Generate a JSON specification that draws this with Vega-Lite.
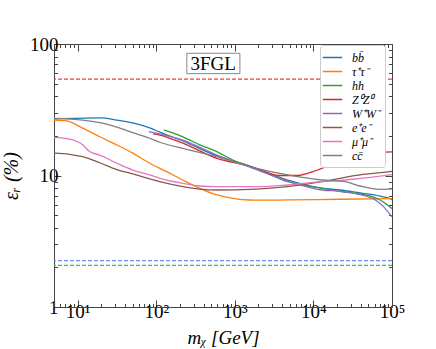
{
  "$schema": "https://vega.github.io/schema/vega-lite/v6.json",
  "width": 338,
  "height": 263,
  "autosize": {"type": "none"},
  "padding": {"left": 54, "top": 44, "right": 44, "bottom": 42},
  "background": "white",
  "config": {"view": {"stroke": null}, "font": "Liberation Serif"},
  "datasets": {
    "curves": [
      {"ch": "bb̄", "m": 5, "e": 26.9}, {"ch": "bb̄", "m": 19.1, "e": 27.4}, {"ch": "bb̄", "m": 31.4, "e": 26.4}, {"ch": "bb̄", "m": 50.2, "e": 25.1}, {"ch": "bb̄", "m": 82.6, "e": 23.0}, {"ch": "bb̄", "m": 111, "e": 21.4}, {"ch": "bb̄", "m": 218, "e": 18.3}, {"ch": "bb̄", "m": 590, "e": 14.1}, {"ch": "bb̄", "m": 1553, "e": 11.8}, {"ch": "bb̄", "m": 4732, "e": 9.24}, {"ch": "bb̄", "m": 12823, "e": 8.03}, {"ch": "bb̄", "m": 21770, "e": 7.76}, {"ch": "bb̄", "m": 39100, "e": 7.36}, {"ch": "bb̄", "m": 70300, "e": 6.98}, {"ch": "bb̄", "m": 94400, "e": 6.66}, {"ch": "bb̄", "m": 100000, "e": 6.55},
      {"ch": "τ⁺τ⁻", "m": 5, "e": 26.4}, {"ch": "τ⁺τ⁻", "m": 7.24, "e": 26.0}, {"ch": "τ⁺τ⁻", "m": 11.6, "e": 22.9}, {"ch": "τ⁺τ⁻", "m": 19.1, "e": 19.7}, {"ch": "τ⁺τ⁻", "m": 31.4, "e": 17.1}, {"ch": "τ⁺τ⁻", "m": 50.2, "e": 14.8}, {"ch": "τ⁺τ⁻", "m": 82.6, "e": 12.4}, {"ch": "τ⁺τ⁻", "m": 136, "e": 10.7}, {"ch": "τ⁺τ⁻", "m": 218, "e": 9.24}, {"ch": "τ⁺τ⁻", "m": 358, "e": 7.99}, {"ch": "τ⁺τ⁻", "m": 590, "e": 7.11}, {"ch": "τ⁺τ⁻", "m": 944, "e": 6.71}, {"ch": "τ⁺τ⁻", "m": 1553, "e": 6.51}, {"ch": "τ⁺τ⁻", "m": 2081, "e": 6.49}, {"ch": "τ⁺τ⁻", "m": 5000, "e": 6.52}, {"ch": "τ⁺τ⁻", "m": 21770, "e": 6.6}, {"ch": "τ⁺τ⁻", "m": 100000, "e": 6.66},
      {"ch": "hh", "m": 125, "e": 22.2}, {"ch": "hh", "m": 218, "e": 19.7}, {"ch": "hh", "m": 358, "e": 17.1}, {"ch": "hh", "m": 590, "e": 15.2}, {"ch": "hh", "m": 944, "e": 13.1}, {"ch": "hh", "m": 1553, "e": 11.7}, {"ch": "hh", "m": 2081, "e": 11.0}, {"ch": "hh", "m": 4732, "e": 8.97}, {"ch": "hh", "m": 12823, "e": 7.99}, {"ch": "hh", "m": 21770, "e": 7.59}, {"ch": "hh", "m": 57280, "e": 6.88}, {"ch": "hh", "m": 76800, "e": 6.32}, {"ch": "hh", "m": 94400, "e": 5.75}, {"ch": "hh", "m": 100000, "e": 5.6},
      {"ch": "Z⁰Z⁰", "m": 91.2, "e": 20.7}, {"ch": "Z⁰Z⁰", "m": 111, "e": 20.3}, {"ch": "Z⁰Z⁰", "m": 218, "e": 17.6}, {"ch": "Z⁰Z⁰", "m": 590, "e": 13.5}, {"ch": "Z⁰Z⁰", "m": 1553, "e": 11.7}, {"ch": "Z⁰Z⁰", "m": 2275, "e": 10.8}, {"ch": "Z⁰Z⁰", "m": 3741, "e": 10.0}, {"ch": "Z⁰Z⁰", "m": 6166, "e": 10.0}, {"ch": "Z⁰Z⁰", "m": 9860, "e": 10.7}, {"ch": "Z⁰Z⁰", "m": 16218, "e": 12.0}, {"ch": "Z⁰Z⁰", "m": 21770, "e": 12.9}, {"ch": "Z⁰Z⁰", "m": 29170, "e": 13.8}, {"ch": "Z⁰Z⁰", "m": 45290, "e": 14.6}, {"ch": "Z⁰Z⁰", "m": 70300, "e": 15.0}, {"ch": "Z⁰Z⁰", "m": 100000, "e": 15.1},
      {"ch": "W⁺W⁻", "m": 80.4, "e": 21.6}, {"ch": "W⁺W⁻", "m": 218, "e": 18.6}, {"ch": "W⁺W⁻", "m": 590, "e": 14.3}, {"ch": "W⁺W⁻", "m": 1553, "e": 11.6}, {"ch": "W⁺W⁻", "m": 4732, "e": 9.08}, {"ch": "W⁺W⁻", "m": 12823, "e": 7.76}, {"ch": "W⁺W⁻", "m": 21770, "e": 7.59}, {"ch": "W⁺W⁻", "m": 57280, "e": 6.68}, {"ch": "W⁺W⁻", "m": 76800, "e": 5.85}, {"ch": "W⁺W⁻", "m": 100000, "e": 4.84},
      {"ch": "e⁺e⁻", "m": 5, "e": 14.8}, {"ch": "e⁺e⁻", "m": 7.9, "e": 14.5}, {"ch": "e⁺e⁻", "m": 11.6, "e": 13.9}, {"ch": "e⁺e⁻", "m": 19.1, "e": 12.5}, {"ch": "e⁺e⁻", "m": 31.4, "e": 11.1}, {"ch": "e⁺e⁻", "m": 50.2, "e": 10.3}, {"ch": "e⁺e⁻", "m": 82.6, "e": 9.41}, {"ch": "e⁺e⁻", "m": 111, "e": 8.97}, {"ch": "e⁺e⁻", "m": 218, "e": 8.22}, {"ch": "e⁺e⁻", "m": 358, "e": 7.89}, {"ch": "e⁺e⁻", "m": 590, "e": 7.76}, {"ch": "e⁺e⁻", "m": 1553, "e": 7.85}, {"ch": "e⁺e⁻", "m": 4732, "e": 8.22}, {"ch": "e⁺e⁻", "m": 12823, "e": 8.97}, {"ch": "e⁺e⁻", "m": 25180, "e": 9.69}, {"ch": "e⁺e⁻", "m": 39100, "e": 10.1}, {"ch": "e⁺e⁻", "m": 94400, "e": 10.7}, {"ch": "e⁺e⁻", "m": 100000, "e": 10.75},
      {"ch": "μ⁺μ⁻", "m": 5, "e": 19.5}, {"ch": "μ⁺μ⁻", "m": 7.9, "e": 18.9}, {"ch": "μ⁺μ⁻", "m": 11.6, "e": 17.1}, {"ch": "μ⁺μ⁻", "m": 14.2, "e": 15.2}, {"ch": "μ⁺μ⁻", "m": 19.1, "e": 14.3}, {"ch": "μ⁺μ⁻", "m": 31.4, "e": 12.4}, {"ch": "μ⁺μ⁻", "m": 50.2, "e": 11.0}, {"ch": "μ⁺μ⁻", "m": 82.6, "e": 10.1}, {"ch": "μ⁺μ⁻", "m": 111, "e": 9.52}, {"ch": "μ⁺μ⁻", "m": 218, "e": 8.72}, {"ch": "μ⁺μ⁻", "m": 358, "e": 8.32}, {"ch": "μ⁺μ⁻", "m": 590, "e": 8.22}, {"ch": "μ⁺μ⁻", "m": 2081, "e": 8.22}, {"ch": "μ⁺μ⁻", "m": 4732, "e": 8.47}, {"ch": "μ⁺μ⁻", "m": 12823, "e": 8.97}, {"ch": "μ⁺μ⁻", "m": 25180, "e": 9.24}, {"ch": "μ⁺μ⁻", "m": 94400, "e": 10.1}, {"ch": "μ⁺μ⁻", "m": 100000, "e": 10.15},
      {"ch": "cc̄", "m": 5, "e": 27.2}, {"ch": "cc̄", "m": 11.6, "e": 26.4}, {"ch": "cc̄", "m": 19.1, "e": 25.2}, {"ch": "cc̄", "m": 31.4, "e": 23.3}, {"ch": "cc̄", "m": 50.2, "e": 21.2}, {"ch": "cc̄", "m": 82.6, "e": 19.2}, {"ch": "cc̄", "m": 111, "e": 17.9}, {"ch": "cc̄", "m": 218, "e": 16.1}, {"ch": "cc̄", "m": 590, "e": 13.9}, {"ch": "cc̄", "m": 1553, "e": 11.7}, {"ch": "cc̄", "m": 1950, "e": 11.3}, {"ch": "cc̄", "m": 4732, "e": 10.1}, {"ch": "cc̄", "m": 12823, "e": 9.24}, {"ch": "cc̄", "m": 25180, "e": 8.97}, {"ch": "cc̄", "m": 39100, "e": 8.32}, {"ch": "cc̄", "m": 70300, "e": 7.85}, {"ch": "cc̄", "m": 100000, "e": 7.9}
    ],
    "limits": [{"set": "a", "e": 54}, {"set": "b", "e": 2.25}, {"set": "c", "e": 2.07}],
    "notes": [{"label": "3FGL", "m": 530, "e": 71, "m0": 245, "m1": 1160, "e0": 59.5, "e1": 85}]
  },
  "resolve": {"axis": {"x": "independent", "y": "independent"}},
  "layer": [
    {
      "data": {"name": "curves"},
      "mark": {"type": "line", "strokeWidth": 1.3, "interpolate": "monotone"},
      "encoding": {
        "x": {"field": "m", "type": "quantitative",
          "scale": {"type": "log", "domain": [5, 100000], "nice": false},
          "axis": {"orient": "bottom", "grid": false, "title": "mᵪ [GeV]",
            "values": [5,6,7,8,9,10,20,30,40,50,60,70,80,90,100,200,300,400,500,600,700,800,900,1000,2000,3000,4000,5000,6000,7000,8000,9000,10000,20000,30000,40000,50000,60000,70000,80000,90000,100000],
            "labelExpr": "abs(log(datum.value)/LN10 - round(log(datum.value)/LN10)) < 0.001 ? '10' + ['⁰','¹','²','³','⁴','⁵'][round(log(datum.value)/LN10)] : ''",
            "tickSize": {"condition": {"test": "abs(log(datum.value)/LN10 - round(log(datum.value)/LN10)) < 0.001", "value": -7}, "value": -3.5},
            "labelOverlap": false, "labelFlush": false, "labelPadding": 2,
            "labelFont": "Liberation Serif", "labelFontSize": 19, "labelColor": "black",
            "titleFont": "Liberation Serif", "titleFontStyle": "italic", "titleFontWeight": "normal", "titleFontSize": 19, "titleColor": "black", "titlePadding": 4,
            "domainColor": "#444", "tickColor": "#444"}},
        "y": {"field": "e", "type": "quantitative",
          "scale": {"type": "log", "domain": [1, 100], "nice": false},
          "axis": {"orient": "left", "grid": false, "title": "εᵣ (%)",
            "values": [1,2,3,4,5,6,7,8,9,10,20,30,40,50,60,70,80,90,100],
            "labelExpr": "abs(log(datum.value)/LN10 - round(log(datum.value)/LN10)) < 0.001 ? format(datum.value, 'd') : ''",
            "tickSize": {"condition": {"test": "abs(log(datum.value)/LN10 - round(log(datum.value)/LN10)) < 0.001", "value": -7}, "value": -3.5},
            "labelOverlap": false, "labelFlush": false, "labelPadding": 3,
            "labelFont": "Liberation Serif", "labelFontSize": 19, "labelColor": "black",
            "titleFont": "Liberation Serif", "titleFontStyle": "italic", "titleFontWeight": "normal", "titleFontSize": 20, "titleColor": "black", "titlePadding": 8,
            "domainColor": "#444", "tickColor": "#444"}},
        "color": {"field": "ch", "type": "nominal",
          "scale": {"domain": ["bb̄", "τ⁺τ⁻", "hh", "Z⁰Z⁰", "W⁺W⁻", "e⁺e⁻", "μ⁺μ⁻", "cc̄"],
            "range": ["#1f77b4", "#ff7f0e", "#2ca02c", "#d62728", "#9467bd", "#8c564b", "#e377c2", "#7f7f7f"]},
          "legend": {"title": null, "orient": "none", "legendX": 266, "legendY": 1, "fillColor": "white", "strokeColor": "#cccccc", "cornerRadius": 3, "padding": 5,
            "symbolType": "M-1.5,0H1.5", "symbolStrokeWidth": 1.5, "symbolSize": 169, "rowPadding": 0, "labelOffset": 12,
            "labelFont": "Liberation Serif", "labelFontStyle": "italic", "labelFontSize": 12, "labelColor": "black"}}
      }
    },
    {
      "data": {"name": "limits"},
      "mark": {"type": "rule", "strokeWidth": 1.3, "strokeDash": [4, 2]},
      "encoding": {
        "y": {"field": "e", "type": "quantitative", "scale": {"type": "log", "domain": [1, 100], "nice": false}, "axis": null},
        "stroke": {"field": "set", "type": "nominal", "scale": {"domain": ["a", "b", "c"], "range": ["#e8403f", "#6a8ff0", "#4cbc4c"]}, "legend": null}
      }
    },
    {
      "data": {"name": "notes"},
      "mark": {"type": "rect", "fill": "white", "stroke": "#888888", "strokeWidth": 1},
      "encoding": {
        "x": {"field": "m0", "type": "quantitative", "scale": {"type": "log", "domain": [5, 100000], "nice": false},
          "axis": {"orient": "top", "grid": false, "title": null, "labels": false,
            "values": [5,6,7,8,9,10,20,30,40,50,60,70,80,90,100,200,300,400,500,600,700,800,900,1000,2000,3000,4000,5000,6000,7000,8000,9000,10000,20000,30000,40000,50000,60000,70000,80000,90000,100000],
            "tickSize": {"condition": {"test": "abs(log(datum.value)/LN10 - round(log(datum.value)/LN10)) < 0.001", "value": -7}, "value": -3.5},
            "domainColor": "#444", "tickColor": "#444"}},
        "x2": {"field": "m1"},
        "y": {"field": "e0", "type": "quantitative", "scale": {"type": "log", "domain": [1, 100], "nice": false},
          "axis": {"orient": "right", "grid": false, "title": null, "labels": false,
            "values": [1,2,3,4,5,6,7,8,9,10,20,30,40,50,60,70,80,90,100],
            "tickSize": {"condition": {"test": "abs(log(datum.value)/LN10 - round(log(datum.value)/LN10)) < 0.001", "value": -7}, "value": -3.5},
            "domainColor": "#444", "tickColor": "#444"}},
        "y2": {"field": "e1"}
      }
    },
    {
      "data": {"name": "notes"},
      "mark": {"type": "text", "font": "Liberation Serif", "fontSize": 19, "color": "black", "baseline": "middle", "align": "center"},
      "encoding": {
        "x": {"field": "m", "type": "quantitative", "scale": {"type": "log", "domain": [5, 100000], "nice": false}, "axis": null},
        "y": {"field": "e", "type": "quantitative", "scale": {"type": "log", "domain": [1, 100], "nice": false}, "axis": null},
        "text": {"field": "label"}
      }
    }
  ]
}
